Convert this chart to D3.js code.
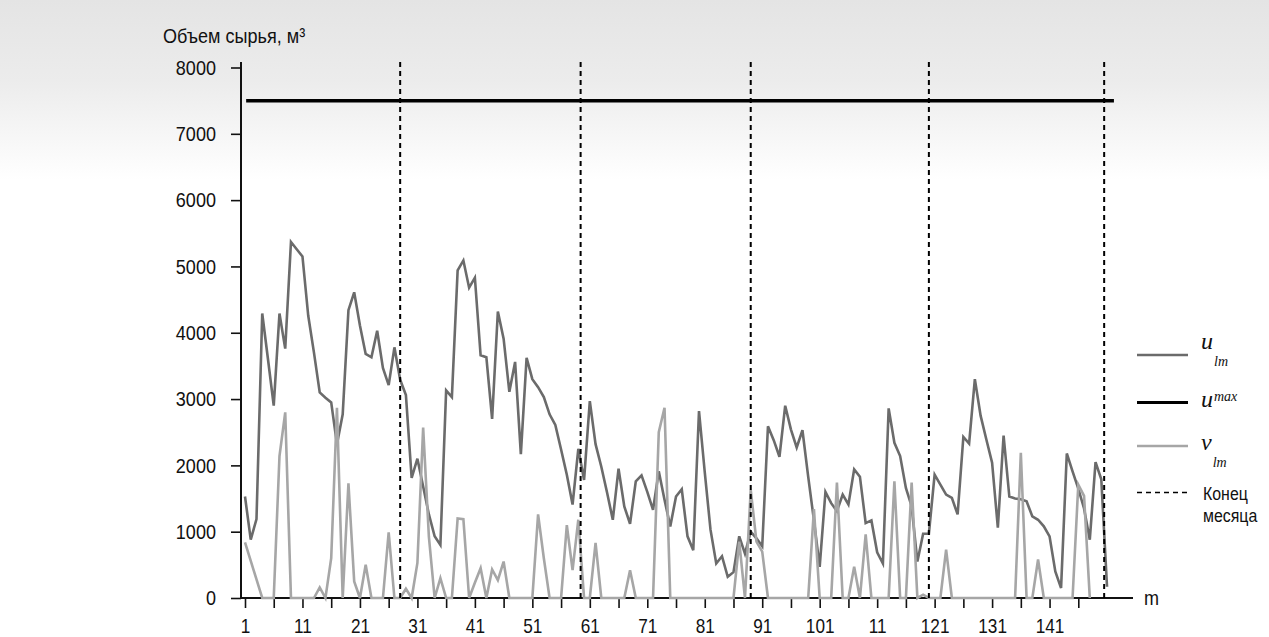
<!DOCTYPE html>
<html><head><meta charset="utf-8">
<script src="https://cdn.jsdelivr.net/npm/d3@7"></script>
<style>
html,body{margin:0;padding:0;background:#fff;}
svg{display:block;}
.lbl{font-family:"Liberation Sans","Arial",sans-serif;font-size:21px;fill:#111;}
.xl{font-size:20px;}
.sym{font-family:"Liberation Serif","DejaVu Serif",serif;font-style:italic;fill:#111;}
</style></head>
<body>
<svg id="c" width="1269" height="637"></svg>
<script>
// ---- data ----
const uLm = [1530,880,1190,4290,3600,2900,4290,3760,5370,5260,5150,4260,3700,3100,3020,2950,2320,2770,4340,4610,
4110,3680,3630,4030,3470,3210,3780,3290,3060,1810,2100,1680,1260,930,800,3130,3030,4940,5090,4680,
4830,3660,3630,2700,4320,3910,3110,3560,2170,3620,3300,3180,3030,2770,2610,2240,1860,1410,2250,1780,
2970,2320,1980,1590,1180,1950,1380,1120,1760,1850,1600,1330,1910,1480,1080,1530,1640,930,720,2820,
1900,1030,520,630,320,390,930,670,1000,900,780,2590,2380,2130,2900,2540,2270,2530,1830,1170,
470,1600,1430,1310,1560,1410,1940,1830,1130,1170,690,520,2860,2340,2140,1660,1380,550,970,970,
1860,1710,1560,1510,1260,2430,2330,3300,2750,2390,2040,1060,2450,1530,1500,1490,1460,1230,1180,1080,
930,400,150,2180,1910,1650,1350,880,2050,1790,170];
const vLm = [840,560,280,0,0,0,2140,2800,0,0,0,0,0,160,0,600,2870,0,1730,250,
0,500,0,0,0,990,0,0,140,0,530,2570,920,0,300,0,0,1200,1190,0,
230,450,0,430,270,550,0,0,0,0,0,1260,600,0,0,0,1100,420,1180,0,
0,830,0,0,0,0,0,420,0,0,0,0,2500,2870,0,0,0,0,0,0,
0,0,0,0,0,0,850,0,1630,850,700,0,0,0,0,0,0,0,0,1340,
0,0,0,1740,0,0,470,0,960,0,0,0,0,1760,0,0,1740,0,50,0,
0,0,730,0,0,0,0,0,0,0,0,0,0,0,0,2190,0,0,580,0,
0,0,0,0,0,1710,1540,0];
const uMax = 7500;
const monthEnds = [28, 59.4, 89, 120, 150.5];
const yTicks = [0,1000,2000,3000,4000,5000,6000,7000,8000];
const xTickValues = d3.range(1, 147, 5);
const xLabelValues = [1,11,21,31,41,51,61,71,81,91,101,111,121,131,141];
const xLabelTexts = ["1","11","21","31","41","51","61","71","81","91","101","11","121","131","141"];

// ---- chart ----
const svg = d3.select("#c");
const x = d3.scaleLinear().domain([1,146]).range([245,1078.3]);
const y = d3.scaleLinear().domain([0,8000]).range([598,67.5]);

const defs = svg.append("defs");
const g = defs.append("linearGradient").attr("id","bg").attr("x1",0).attr("y1",0).attr("x2",0).attr("y2",1);
g.append("stop").attr("offset","0%").attr("stop-color","#e4e4e4");
g.append("stop").attr("offset","45%").attr("stop-color","#ececec");
g.append("stop").attr("offset","100%").attr("stop-color","#ffffff");
svg.append("rect").attr("x",0).attr("y",0).attr("width",1269).attr("height",180).attr("fill","url(#bg)");

// axes
const yAxis = d3.axisLeft(y).tickValues(yTicks).tickSize(10).tickPadding(15).tickSizeOuter(0).tickFormat(d3.format("d"));
const ya = svg.append("g").attr("transform","translate(241,0)").call(yAxis);
ya.select(".domain").remove();
ya.selectAll("line").attr("stroke","#111").attr("stroke-width",1.6);
ya.selectAll("text").attr("class","lbl").attr("font-size",null).attr("font-family",null).attr("fill",null);
svg.append("line").attr("x1",241).attr("x2",241).attr("y1",62).attr("y2",599).attr("stroke","#111").attr("stroke-width",2);

const xAxis = d3.axisBottom(x).tickValues(xTickValues).tickSize(10).tickPadding(11).tickSizeOuter(0)
  .tickFormat(d => { const i = xLabelValues.indexOf(d); return i >= 0 ? xLabelTexts[i] : ""; });
const xa = svg.append("g").attr("transform","translate(0,598)").call(xAxis);
xa.select(".domain").remove();
xa.selectAll("line").attr("stroke","#111").attr("stroke-width",1.6);
xa.selectAll("text").attr("class","lbl xl").attr("font-size",null).attr("font-family",null).attr("fill",null);
svg.append("line").attr("x1",240).attr("x2",1133).attr("y1",598).attr("y2",598).attr("stroke","#111").attr("stroke-width",2);

svg.append("text").attr("class","lbl").attr("x",1144).attr("y",605).text("m");

// title
svg.append("text").attr("class","lbl").attr("x",163).attr("y",43).text("Объем сырья, м³");

// u max
svg.append("line").attr("x1",x(1.2)).attr("x2",x(152.2)).attr("y1",y(uMax)).attr("y2",y(uMax))
  .attr("stroke","#000").attr("stroke-width",3.5);

// series
const line = d3.line().x((d,i)=>x(i+1)).y(d=>y(d));
svg.append("path").datum(uLm).attr("d",line).attr("fill","none").attr("stroke","#6b6b6b").attr("stroke-width",2.6).attr("stroke-linejoin","miter");
svg.append("path").datum(vLm).attr("d",line).attr("fill","none").attr("stroke","#a6a6a6").attr("stroke-width",2.6).attr("stroke-linejoin","miter");

// month ends
svg.selectAll(".me").data(monthEnds).enter().append("line")
  .attr("x1",d=>x(d)).attr("x2",d=>x(d)).attr("y1",62).attr("y2",598)
  .attr("stroke","#000").attr("stroke-width",2).attr("stroke-dasharray","5,4");

// legend
const L = svg.append("g");
L.append("line").attr("x1",1137).attr("x2",1188).attr("y1",355).attr("y2",355).attr("stroke","#6b6b6b").attr("stroke-width",2.6);
L.append("line").attr("x1",1137).attr("x2",1188).attr("y1",402.5).attr("y2",402.5).attr("stroke","#000").attr("stroke-width",3);
L.append("line").attr("x1",1137).attr("x2",1188).attr("y1",446).attr("y2",446).attr("stroke","#a6a6a6").attr("stroke-width",2.6);
L.append("line").attr("x1",1137).attr("x2",1188).attr("y1",492.5).attr("y2",492.5).attr("stroke","#000").attr("stroke-width",1.6).attr("stroke-dasharray","5,4");

function sym(base, sub, yb, sup){
  const tx = L.append("text").attr("class","sym").attr("x",1201).attr("y",yb).attr("font-size",24).text(base);
  tx.append("tspan").attr("font-size",14).attr("dx",1).attr("dy", sup ? -6 : 17).text(sub);
}
sym("u","lm",349,false);
sym("u","max",407,true);
sym("v","lm",450,false);
const lt = L.append("text").attr("class","lbl").attr("x",1203).attr("y",500.5).style("font-size","18.5px");
lt.append("tspan").attr("x",1203).text("Конец");
lt.append("tspan").attr("x",1203).attr("dy",21.5).text("месяца");

// condense sans labels (reference uses a condensed face) by a horizontal scale about each anchor
svg.selectAll("text.lbl").each(function(){
  const ax = +(this.getAttribute("x") || 0);
  const ay = +(this.getAttribute("y") || 0);
  d3.select(this).attr("transform", `translate(${ax},${ay}) scale(0.86,1) translate(${-ax},${-ay})`);
});
</script>
</body></html>
